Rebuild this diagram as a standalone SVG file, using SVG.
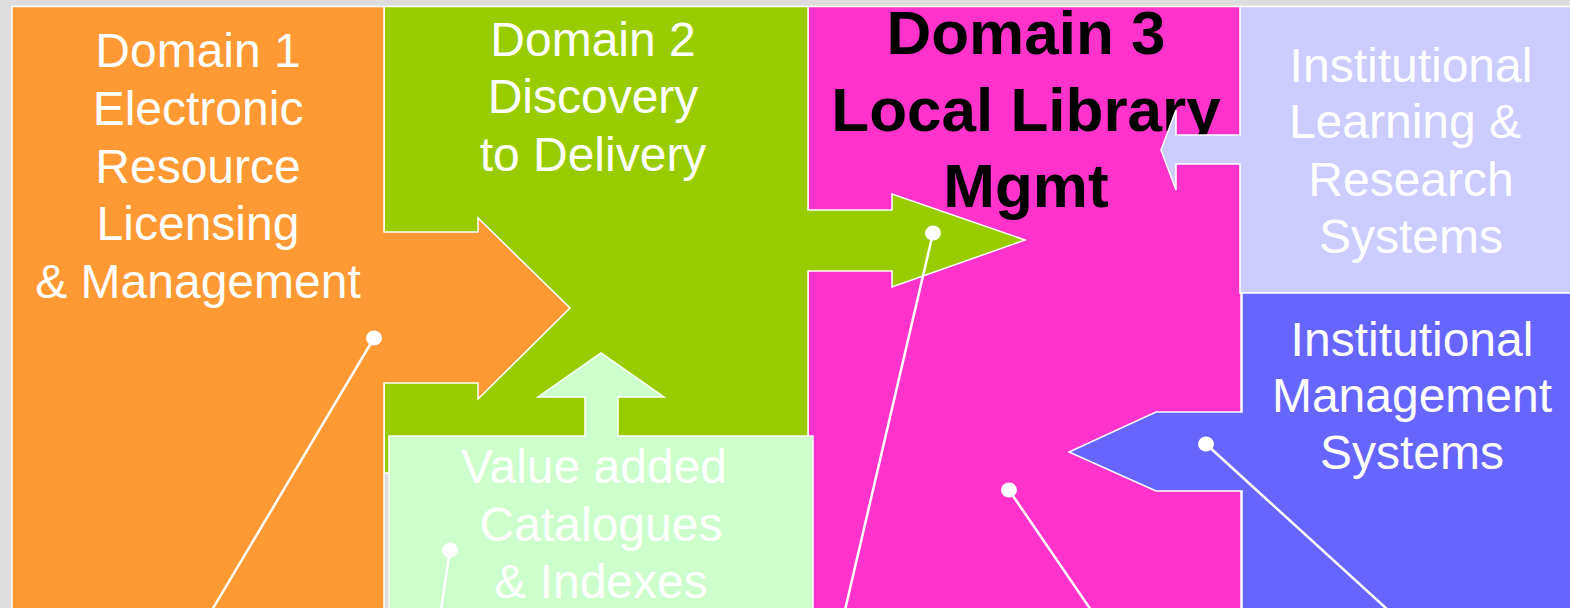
<svg xmlns="http://www.w3.org/2000/svg" width="1570" height="608" viewBox="0 0 1570 608">
  <style>
    .shape { stroke: #ffffff; stroke-width: 1.5; stroke-linejoin: miter; }
    .label { font-family: "Liberation Sans", Arial, sans-serif; font-size: 48px; fill: #ffffff; text-anchor: middle; }
    .title { font-family: "Liberation Sans", Arial, sans-serif; font-size: 62px; font-weight: bold; fill: #000000; text-anchor: middle; }
    .pin { stroke: #ffffff; stroke-width: 2.5; fill: none; }
    .dot { fill: #ffffff; }
  </style>

  <!-- slide background -->
  <rect x="0" y="0" width="1570" height="608" fill="#dddddd"/>

  <!-- Domain 3: local library management -->
  <g id="domain3">
    <rect class="shape" x="808" y="6.5" width="433" height="610" fill="#ff33cc"/>
    <text class="title" x="1026" y="54">Domain 3</text>
    <text class="title" x="1026" y="131">Local Library</text>
    <text class="title" x="1026" y="207">Mgmt</text>
  </g>

  <!-- Domain 2: discovery to delivery, pointing into Domain 3 -->
  <g id="domain2">
    <polygon class="shape" fill="#99cc00"
      points="384,6.5 808,6.5 808,210 892,210 892,194 1025,240 892,287 892,271 808,271 808,473 384,473"/>
    <text class="label" x="593" y="56">Domain 2</text>
    <text class="label" x="593" y="113">Discovery</text>
    <text class="label" x="593" y="171">to Delivery</text>
  </g>

  <!-- Domain 1: electronic resource licensing, pointing into Domain 2 -->
  <g id="domain1">
    <polygon class="shape" fill="#ff9933"
      points="12,6.5 384,6.5 384,232 478,232 478,218 570,308 478,399 478,383 384,383 384,616 12,616"/>
    <text class="label" x="198" y="67">Domain 1</text>
    <text class="label" x="198" y="125">Electronic</text>
    <text class="label" x="198" y="183">Resource</text>
    <text class="label" x="198" y="240">Licensing</text>
    <text class="label" x="198" y="298">&amp; Management</text>
  </g>

  <!-- Institutional learning & research systems, pointing into Domain 3 -->
  <g id="learning-research">
    <polygon class="shape" fill="#ccccff"
      points="1240,6.5 1575,6.5 1575,293 1240,293 1240,164 1176,164 1176,190 1161,150 1176,110 1176,135 1240,135"/>
    <text class="label" x="1411" y="82">Institutional</text>
    <text class="label" x="1405" y="138">Learning &amp;</text>
    <text class="label" x="1411" y="196">Research</text>
    <text class="label" x="1411" y="253">Systems</text>
  </g>

  <!-- Institutional management systems, pointing into Domain 3 -->
  <g id="management-systems">
    <polygon class="shape" fill="#6666ff"
      points="1242,293 1575,293 1575,616 1242,616 1242,491 1156,491 1069,452 1156,412 1242,412"/>
    <text class="label" x="1412" y="356">Institutional</text>
    <text class="label" x="1412" y="412">Management</text>
    <text class="label" x="1412" y="469">Systems</text>
  </g>

  <!-- Value added catalogues & indexes, pointing up into Domain 2 -->
  <g id="catalogues">
    <polygon class="shape" fill="#ccffcc"
      points="389,436 585,436 585,397 538,397 601,353 664,397 618,397 618,436 813,436 813,616 389,616"/>
    <text class="label" x="594" y="483">Value added</text>
    <text class="label" x="601" y="541">Catalogues</text>
    <text class="label" x="601" y="598">&amp; Indexes</text>
  </g>

  <!-- callout pins -->
  <g id="connectors">
    <line class="pin" x1="374" y1="338" x2="212" y2="610"/>
    <ellipse class="dot" cx="374" cy="338" rx="8" ry="7.5"/>
    <line class="pin" x1="933" y1="233" x2="845" y2="610"/>
    <ellipse class="dot" cx="933" cy="233" rx="8" ry="7.5"/>
    <line class="pin" x1="1009" y1="490" x2="1091" y2="610"/>
    <ellipse class="dot" cx="1009" cy="490" rx="8" ry="7.5"/>
    <line class="pin" x1="1206" y1="444" x2="1388" y2="610"/>
    <ellipse class="dot" cx="1206" cy="444" rx="8" ry="7.5"/>
    <line class="pin" x1="450" y1="550" x2="441" y2="610"/>
    <ellipse class="dot" cx="450" cy="550" rx="8" ry="7.5"/>
  </g>
</svg>
